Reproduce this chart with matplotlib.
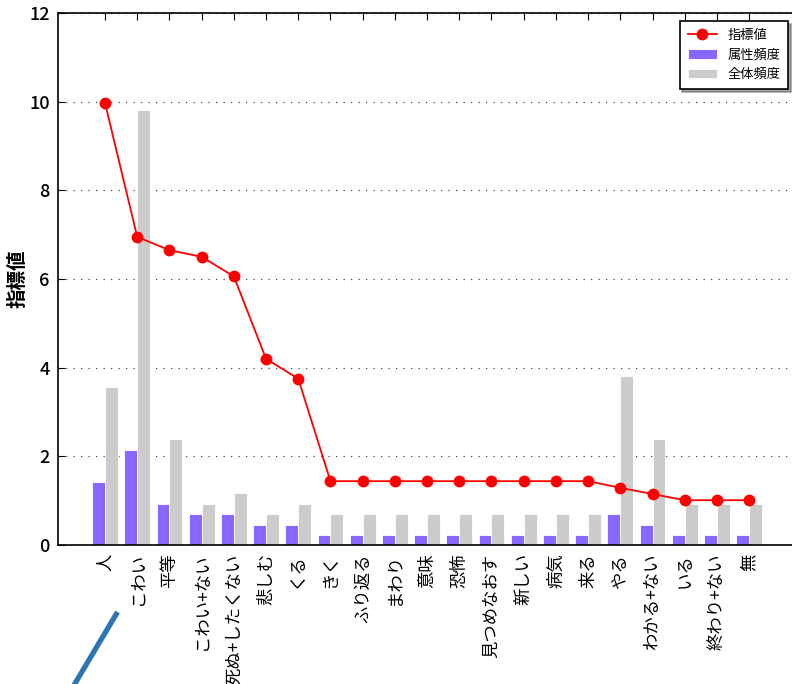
import numpy as np
import matplotlib
matplotlib.use('Agg')
import matplotlib.pyplot as plt
from matplotlib.lines import Line2D

plt.rcParams['font.family'] = ['Noto Sans CJK JP', 'DejaVu Sans']

# data
words = ['人', 'こわい', '平等', 'こわい+ない', '死ぬ+したくない', '悲しむ', 'くる', 'きく',
         'ふり返る', 'まわり', '意味', '恐怖', '見つめなおす', '新しい', '病気', '来る',
         'やる', 'わかる+ない', 'いる', '終わり+ない', '無']
index_val = [9.97, 6.95, 6.65, 6.50, 6.06, 4.20, 3.75, 1.44, 1.44, 1.44, 1.44, 1.44,
             1.44, 1.44, 1.44, 1.44, 1.29, 1.15, 1.01, 1.01, 1.01]
attr_freq = [1.43, 2.14, 0.93, 0.70, 0.70, 0.46, 0.46, 0.23, 0.23, 0.23, 0.23, 0.23,
             0.23, 0.23, 0.23, 0.23, 0.70, 0.46, 0.23, 0.23, 0.23]
total_freq = [3.57, 9.81, 2.38, 0.93, 1.18, 0.70, 0.93, 0.70, 0.70, 0.70, 0.70, 0.70,
              0.70, 0.70, 0.70, 0.70, 3.82, 2.38, 0.93, 0.93, 0.93]

x = np.arange(len(words))
w = 0.4

fig = plt.figure(figsize=(7.92, 6.84), dpi=100)
ax = fig.add_axes([58 / 792, 139 / 684, 742 / 792, 532 / 684])

ax.bar(x - w / 2, attr_freq, width=w, color='#8866ff', edgecolor='white', linewidth=0.6,
       label='属性頻度', zorder=2)
ax.bar(x + w / 2, total_freq, width=w, color='#cccccc', edgecolor='white', linewidth=0.6,
       label='全体頻度', zorder=2)
ax.plot(x, index_val, color='red', marker='o', markersize=7.5, linewidth=1.3,
        label='指標値', zorder=3)

ax.set_xlim(-1.46, 21.58)
ax.set_ylim(0, 12)
ax.set_yticks([0, 2, 4, 6, 8, 10, 12])
ax.set_xticks(x)
ax.set_xticklabels(words, rotation=90, fontsize=12.5)
ax.tick_params(axis='y', labelsize=13, direction='in', length=5, pad=6, right=True)
ax.tick_params(axis='x', direction='in', length=5, pad=6, top=True)
for lbl in ax.get_yticklabels():
    lbl.set_fontweight('medium')
ax.yaxis.grid(True, linestyle=(0, (1, 5)), color='#444444', linewidth=0.9, zorder=0)
ax.set_axisbelow(True)
for s in ax.spines.values():
    s.set_linewidth(1.2)

ax.set_ylabel('指標値', fontsize=14, fontweight='bold')
ax.yaxis.set_label_coords(-30 / 742, 0.5)

leg = ax.legend(loc='upper right', bbox_to_anchor=(788 / 792, 1 - 21 / 684),
                bbox_transform=fig.transFigure, fontsize=9.5, shadow=True,
                fancybox=False, framealpha=1, edgecolor='black', borderpad=0.6,
                borderaxespad=0, handlelength=2.2)
leg.get_frame().set_linewidth(1.2)

# stray blue stroke in the lower left of the reference
fig.add_artist(Line2D([117.5 / 792, 64 / 792], [1 - 612 / 684, 1 - 702 / 684],
                      transform=fig.transFigure, color='#2e75b6', linewidth=3.8,
                      solid_capstyle='butt'))

fig.savefig('out.png', dpi=100)
